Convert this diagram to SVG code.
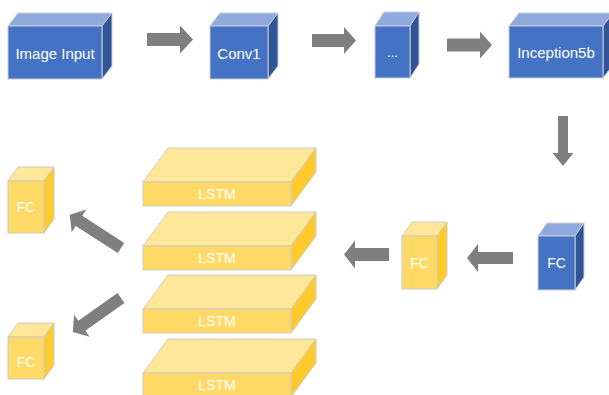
<svg xmlns="http://www.w3.org/2000/svg" width="609" height="395" viewBox="0 0 609 395">
<style>
.bf{fill:#4472C4;stroke:#C8CCD4;stroke-width:1}
.bt{fill:#8FAADC;stroke:#C8CCD4;stroke-width:1}
.bs{fill:#2F5597;stroke:#C8CCD4;stroke-width:1}
.yf{fill:#FFD966;stroke:#D0CCC0;stroke-width:1}
.yt{fill:#FFE699;stroke:#D0CCC0;stroke-width:1}
.ys{fill:#FFCA2C;stroke:#D0CCC0;stroke-width:1}
.t{fill:#FFFFFF;font-family:"Liberation Sans",Arial,sans-serif;text-anchor:middle;dominant-baseline:central}
.arr{fill:#7F7F7F}
</style>
<rect width="609" height="395" fill="#FFFFFF"/>
<g id="connectors">
<path class="arr" d="M147,33 H180 V25.5 L193,39.5 L180,53.5 V46 H147 Z"/>
<path class="arr" d="M312,34 H344 V27 L356,40.5 L344,54 V47 H312 Z"/>
<path class="arr" d="M447,38.5 H480 V31.5 L492,45 L480,58.5 V51.5 H447 Z"/>
<path class="arr" d="M558,116 H568 V153 H573.5 L563,166 L552.5,153 H558 Z"/>
<path class="arr" d="M513,252 H478 V244 L467,258 L478,272 V264 H513 Z"/>
<path class="arr" d="M389,248 H355 V240.5 L344,254.5 L355,268.5 V261 H389 Z"/>
<path class="arr" transform="translate(121,248) rotate(212.9)" d="M0,-6 H50 V-13.5 L61,0 L50,13.5 V6 H0 Z"/>
<path class="arr" transform="translate(121,298) rotate(144.7)" d="M0,-6 H48 V-13.5 L59,0 L48,13.5 V6 H0 Z"/>
</g>
<g id="image-input">
<polygon class="bt" points="8,26 18,13 112,13 102,26"/>
<polygon class="bs" points="102,26 112,13 112,66 102,79"/>
<rect class="bf" x="8" y="26" width="94" height="53"/>
<text class="t" x="55" y="53" font-size="15">Image Input</text>
</g>
<g id="conv1">
<polygon class="bt" points="210,26 220,13 278,13 268,26"/>
<polygon class="bs" points="268,26 278,13 278,66 268,79"/>
<rect class="bf" x="210" y="26" width="58" height="53"/>
<text class="t" x="239" y="53" font-size="15">Conv1</text>
</g>
<g id="ellipsis">
<polygon class="bt" points="375,26 384,12 419,12 410,26"/>
<polygon class="bs" points="410,26 419,12 419,64 410,78"/>
<rect class="bf" x="375" y="26" width="35" height="52"/>
<text class="t" x="392.5" y="52" font-size="13">...</text>
</g>
<g id="inception5b">
<polygon class="bt" points="509,26 519,13 613,13 603,26"/>
<polygon class="bs" points="603,26 613,13 613,65 603,78"/>
<rect class="bf" x="509" y="26" width="94" height="52"/>
<text class="t" x="556" y="52.5" font-size="15">Inception5b</text>
</g>
<g id="fc-blue">
<polygon class="bt" points="538,236 547,223 584,223 575,236"/>
<polygon class="bs" points="575,236 584,223 584,277 575,290"/>
<rect class="bf" x="538" y="236" width="37" height="54"/>
<text class="t" x="556.5" y="263" font-size="14">FC</text>
</g>
<g id="fc-mid">
<polygon class="yt" points="402,236 412,222 447,222 437,236"/>
<polygon class="ys" points="437,236 447,222 447,275 437,289"/>
<rect class="yf" x="402" y="236" width="35" height="53"/>
<text class="t" x="419.5" y="262.5" font-size="14">FC</text>
</g>
<g id="lstm1">
<polygon class="yt" points="143,182 168,148 316,148 291,182"/>
<polygon class="ys" points="291,182 316,148 316,172 291,206"/>
<rect class="yf" x="143" y="182" width="148" height="24"/>
<text class="t" x="217" y="194" font-size="14">LSTM</text>
</g>
<g id="lstm2">
<polygon class="yt" points="143,246 168,212 316,212 291,246"/>
<polygon class="ys" points="291,246 316,212 316,236 291,270"/>
<rect class="yf" x="143" y="246" width="148" height="24"/>
<text class="t" x="217" y="258" font-size="14">LSTM</text>
</g>
<g id="lstm3">
<polygon class="yt" points="143,309 168,275 316,275 291,309"/>
<polygon class="ys" points="291,309 316,275 316,299 291,333"/>
<rect class="yf" x="143" y="309" width="148" height="24"/>
<text class="t" x="217" y="321" font-size="14">LSTM</text>
</g>
<g id="lstm4">
<polygon class="yt" points="143,373 168,339 316,339 291,373"/>
<polygon class="ys" points="291,373 316,339 316,363 291,397"/>
<rect class="yf" x="143" y="373" width="148" height="24"/>
<text class="t" x="217" y="385" font-size="14">LSTM</text>
</g>
<g id="fc-out1">
<polygon class="yt" points="8,181 18,167 54,167 44,181"/>
<polygon class="ys" points="44,181 54,167 54,219 44,233"/>
<rect class="yf" x="8" y="181" width="36" height="52"/>
<text class="t" x="26" y="207" font-size="14">FC</text>
</g>
<g id="fc-out2">
<polygon class="yt" points="8,337 18,323 54,323 44,337"/>
<polygon class="ys" points="44,337 54,323 54,365 44,379"/>
<rect class="yf" x="8" y="337" width="36" height="42"/>
<text class="t" x="26" y="362" font-size="14">FC</text>
</g>
</svg>
